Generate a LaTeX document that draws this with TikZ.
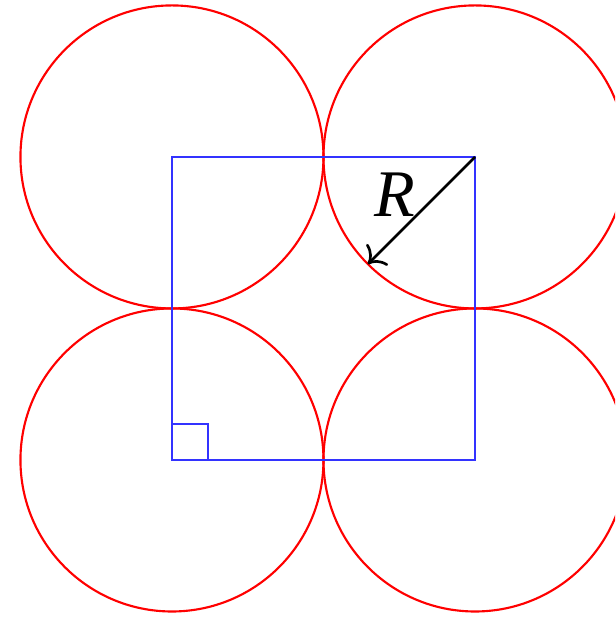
\documentclass[tikz,border=0pt]{standalone}
\usepackage{fontspec}
\setmainfont{Liberation Serif}
\usepackage{tikz}
\usetikzlibrary{arrows.meta,positioning}

\begin{document}
\begin{tikzpicture}[>=To,x=1cm,y=1cm]
\clip (-1.135,-1.043) rectangle (2.924,3.036);
\useasboundingbox (-1.135,-1.043) rectangle (2.924,3.036);
\tikzset{disc/.style={draw=red,line width=0.4pt},
  frame/.style={draw=blue!80,line width=0.4pt}}
\coordinate (c00) at (0,0);
\coordinate (c10) at (2,0);
\coordinate (c01) at (0,2);
\coordinate (c11) at (2,2);
\draw[disc] (c00) circle (1);
\draw[disc] (c10) circle (1);
\draw[disc] (c01) circle (1);
\draw[disc] (c11) circle (1);
\draw[frame] (c00) -- (c10) -- (c11) -- (c01) -- cycle;
\draw[frame] (c00) rectangle ++(0.238,0.238);
\coordinate (rend) at ([shift={(225:1)}]c11);
\draw[->,line width=0.5pt] (c11) -- (rend);
\node[font=\fontsize{12.5}{14}\selectfont\itshape,inner sep=0pt] (rlab) at (1.472,1.749) {R};
\end{tikzpicture}
\end{document}
